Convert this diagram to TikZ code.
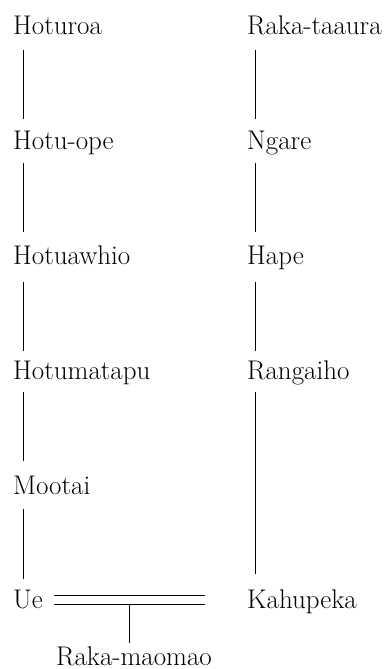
\documentclass[tikz,border=0pt]{standalone}
\usepackage{tikz}

\tikzset{
  person/.style = {anchor = base west, inner sep = 0pt, font = \fontsize{27}{30}\selectfont},
  kin/.style = {line width = 0.9pt},
  left line/.style = {xshift = 10pt},
  right line/.style = {xshift = 8.5pt},
}

\begin{document}
\begin{tikzpicture}[x = 1pt, y = -1pt]
\useasboundingbox (0, 0) rectangle (384, 669);
% left line
\node[person] (hoturoa) at (13, 35) {Hoturoa};
\node[person] (hotuope) at (13, 149) {Hotu-ope};
\node[person] (hotuawhio) at (13, 264) {Hotuawhio};
\node[person] (hotumatapu) at (13, 379) {Hotumatapu};
\node[person] (mootai) at (13, 494) {Mootai};
\node[person] (ue) at (13, 608) {Ue};
% right line
\node[person] (rakataaura) at (247, 35) {Raka-taaura};
\node[person] (ngare) at (247, 149) {Ngare};
\node[person] (hape) at (247, 264) {Hape};
\node[person] (rangaiho) at (247, 379) {Rangaiho};
\node[person] (kahupeka) at (247, 608) {Kahupeka};
\node[person] (rakamaomao) at (56, 665) {Raka-maomao};
\draw[kin] ([left line, yshift = -15pt]hoturoa.base west) -- ([left line, yshift = 30pt]hotuope.base west);
\draw[kin] ([left line, yshift = -14pt]hotuope.base west) -- ([left line, yshift = 32pt]hotuawhio.base west);
\draw[kin] ([left line, yshift = -18pt]hotuawhio.base west) -- ([left line, yshift = 28pt]hotumatapu.base west);
\draw[kin] ([left line, yshift = -13pt]hotumatapu.base west) -- ([left line, yshift = 33pt]mootai.base west);
\draw[kin] ([left line, yshift = -15pt]mootai.base west) -- ([left line, yshift = 29pt]ue.base west);
\draw[kin] ([right line, yshift = -15pt]rakataaura.base west) -- ([right line, yshift = 30pt]ngare.base west);
\draw[kin] ([right line, yshift = -14pt]ngare.base west) -- ([right line, yshift = 32pt]hape.base west);
\draw[kin] ([right line, yshift = -18pt]hape.base west) -- ([right line, yshift = 28pt]rangaiho.base west);
\draw[kin] ([right line, yshift = -13pt]rangaiho.base west) -- ([right line, yshift = 34pt]kahupeka.base west);
% marriage
\coordinate (bar) at (129, 600);
\draw[kin, double, double distance = 7.4pt] (54, 600) -- ([xshift = -42pt, yshift = 8pt]kahupeka.base west);
\draw[kin] ([yshift = -4.2pt]bar) -- ([yshift = 22pt]rakamaomao.base west -| bar);
\end{tikzpicture}
\end{document}
